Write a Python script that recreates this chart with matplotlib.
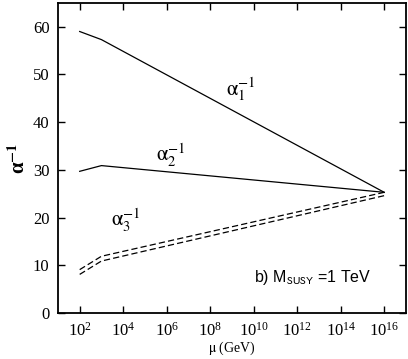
import numpy as np
import matplotlib
matplotlib.use("Agg")
import matplotlib.pyplot as plt
from matplotlib.ticker import FixedLocator, FuncFormatter

plt.rcParams['font.family'] = ['Liberation Serif', 'DejaVu Serif']
plt.rcParams['mathtext.fontset'] = 'stix'

# scale points (log10 of mu in GeV)
log_mu = [2, 3, 16]

# inverse couplings
alpha1_inv = [59.0, 57.3, 25.3]
alpha2_inv = [29.7, 30.9, 25.3]
alpha3_inv_upper = [9.1, 11.9, 25.3]
alpha3_inv_lower = [8.1, 10.9, 24.6]

x_ticks = [2, 4, 6, 8, 10, 12, 14, 16]
y_ticks = [0, 10, 20, 30, 40, 50, 60]

mu = [10.0 ** v for v in log_mu]

fig = plt.figure(figsize=(4.08, 3.59), dpi=100)
ax = fig.add_axes([0.142, 0.128, 0.853, 0.864])

ax.plot(mu, alpha1_inv, color='black', lw=0.9)
ax.plot(mu, alpha2_inv, color='black', lw=0.9)
ax.plot(mu, alpha3_inv_upper, color='black', lw=0.9, dashes=(5, 2.5))
ax.plot(mu, alpha3_inv_lower, color='black', lw=0.9, dashes=(5, 2.5))

ax.set_xscale('log')
ax.set_xlim(1e1, 1e17)
ax.set_ylim(0, 65)
ax.xaxis.set_major_locator(FixedLocator([10.0 ** t for t in x_ticks]))
ax.xaxis.set_minor_locator(FixedLocator([]))
ax.xaxis.set_major_formatter(FuncFormatter(lambda v, p: r'$\mathregular{10^{%d}}$' % round(np.log10(v))))
ax.set_yticks(y_ticks)

ax.tick_params(direction='in', length=5, width=1, labelsize=12,
               top=True, right=True, pad=6)
for s in ax.spines.values():
    s.set_linewidth(1.3)

ax.text(10 ** 9.4, 47.0, r'$\mathrm{\alpha}_1^{-1}$', fontsize=15, ha='center', va='center')
ax.text(10 ** 6.2, 33.0, r'$\mathrm{\alpha}_2^{-1}$', fontsize=15, ha='center', va='center')
ax.text(10 ** 4.1, 19.5, r'$\mathrm{\alpha}_3^{-1}$', fontsize=15, ha='center', va='center')
ax.text(10 ** 10.0, 7.5, r'b) M$_{\mathrm{SUSY}}$ =1 TeV', fontsize=11.5,
        family=['Liberation Sans', 'DejaVu Sans'], math_fontfamily='stixsans',
        ha='left', va='center')

ax.set_xlabel(r'$\mathrm{\mu}$ (GeV)', fontsize=10, labelpad=0)
ax.set_ylabel(r'α$^{\mathbf{-1}}$', fontsize=15, fontweight='bold', labelpad=2)

fig.savefig('out.png', dpi=100)
